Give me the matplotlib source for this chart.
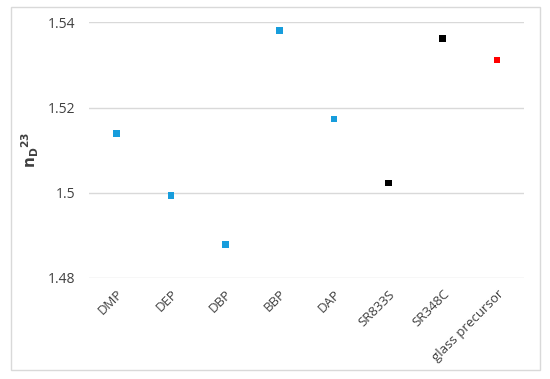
import matplotlib
matplotlib.use('Agg')
import matplotlib.pyplot as plt
from matplotlib.patches import Rectangle

# data
names = ['DMP', 'DEP', 'DBP', 'BBP', 'DAP', 'SR833S', 'SR348C', 'glass precursor']
n_d = [1.5139, 1.4993, 1.4879, 1.5381, 1.5173, 1.5023, 1.5362, 1.5311]
colors = ['#179ddc'] * 5 + ['#000000'] * 2 + ['#ff0000']
yticks = [1.48, 1.5, 1.52, 1.54]
ytick_labels = ['1.48', '1.5', '1.52', '1.54']

plt.rcParams['font.family'] = ['Open Sans', 'DejaVu Sans']

fig = plt.figure(figsize=(5.5, 3.79), dpi=100)
ax = fig.add_axes([0.1624, 0.2665, 0.7909, 0.6747])

x = list(range(len(names)))
ax.scatter(x, n_d, marker='s', s=22, c=colors, linewidths=0, zorder=3)

ax.set_xlim(-0.5, len(names) - 0.5)
ax.set_ylim(1.48, 1.54)
ax.set_yticks(yticks)
ax.set_yticklabels(ytick_labels, fontsize=10, color='#404040')
ax.set_xticks(x)
ax.set_xticklabels(names, rotation=45, ha='right', rotation_mode='anchor',
                   fontsize=9.5, color='#404040')
ax.tick_params(axis='both', length=0)
ax.tick_params(axis='y', pad=10)
ax.tick_params(axis='x', pad=7)
ax.grid(axis='y', color='#d9d9d9', linewidth=1)
ax.set_axisbelow(True)
for sp in ax.spines.values():
    sp.set_visible(False)

ax.set_ylabel(r'$\mathbf{n_D}^{\mathbf{23}}$', fontsize=11, color='#404040')
ax.yaxis.set_label_coords(-0.11, 0.5)

# chart border
fig.patches.append(Rectangle((11 / 550, 1 - 370 / 379), 529 / 550, 363 / 379,
                             transform=fig.transFigure, fill=False,
                             edgecolor='#d9d9d9', linewidth=1))

fig.savefig('out.png', dpi=100)
